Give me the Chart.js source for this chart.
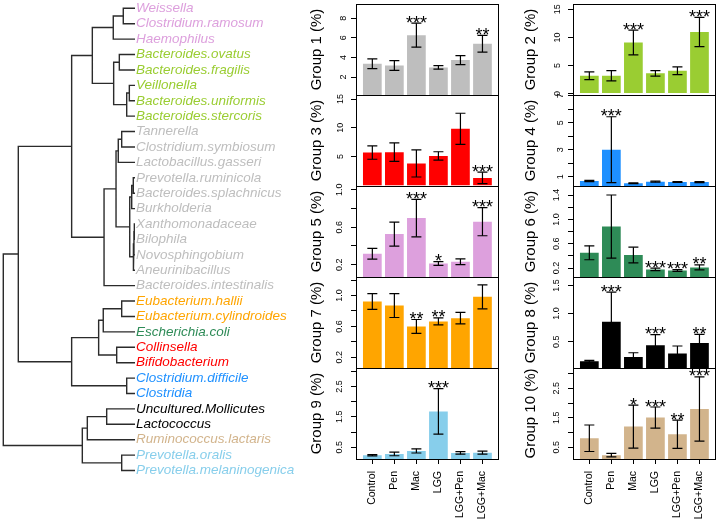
<!DOCTYPE html>
<html>
<head>
<meta charset="utf-8">
<script src="https://cdn.jsdelivr.net/npm/chart.js@4.4.1/dist/chart.umd.min.js"></script>
<style>
  body { margin: 0; background: #fff; width: 722px; height: 520px; overflow: hidden; position: relative; }
  canvas { position: absolute; }
</style>
</head>
<body>
<canvas id="tree" width="300" height="520" style="left:0;top:0"></canvas>
<script>
// Treatments on the x axis
const groups = ['Control', 'Pen', 'Mac', 'LGG', 'LGG+Pen', 'LGG+Mac'];

// Leaves of the dendrogram, top to bottom, and their colour
const leaves = [
  'Weissella', 'Clostridium.ramosum', 'Haemophilus',
  'Bacteroides.ovatus', 'Bacteroides.fragilis', 'Veillonella', 'Bacteroides.uniformis', 'Bacteroides.stercoris',
  'Tannerella', 'Clostridium.symbiosum', 'Lactobacillus.gasseri', 'Prevotella.ruminicola', 'Bacteroides.splachnicus',
  'Burkholderia', 'Xanthomonadaceae', 'Bilophila', 'Novosphingobium', 'Aneurinibacillus', 'Bacteroides.intestinalis',
  'Eubacterium.hallii', 'Eubacterium.cylindroides', 'Escherichia.coli', 'Collinsella', 'Bifidobacterium',
  'Clostridium.difficile', 'Clostridia', 'Uncultured.Mollicutes', 'Lactococcus', 'Ruminococcus.lactaris',
  'Prevotella.oralis', 'Prevotella.melaninogenica'
];
const leafGroup = [5,5,5, 2,2,2,2,2, 1,1,1,1,1,1,1,1,1,1,1, 7,7, 6, 3,3, 4,4, 8,8, 10, 9,9];

// Group colours (Group 1 .. Group 10)
const groupColors = ['#BEBEBE', '#9ACD32', '#FF0000', '#1E90FF', '#DDA0DD',
                     '#2E8B57', '#FFA500', '#000000', '#87CEEB', '#D2B48C'];

// Merge tree: [height, left, right], leaves are indices into `leaves`
const tree = [1.0,
  [0.886,
    [0.481,
      [0.324,
        [0.165, [0.089, 0, 1], 2],
        [0.162, [0.119, 3, 4], [0.063, [0.043, 5, 6], 7]]],
      [0.235,
        [0.144,
          [0.127, [0.101, 8, 9], 10],
          [0.040,
            [0.025, [0.013, 11, 12], 13],
            [0.012, [0.008, [0.005, 14, 15], 16], 17]]],
        18]],
    [0.481,
      [0.276,
        [0.241, [0.101, 19, 20], 21],
        [0.139, 22, 23]],
      [0.063, 24, 25]]],
  [0.400,
    [0.362, [0.215, 26, 27], 28],
    [0.101, 29, 30]]
];

// Mean abundance (%), standard error and significance per group
const g1Mean = [3.35, 3.18, 6.27, 2.98, 3.73, 5.40];
const g1Se = [0.50, 0.49, 1.22, 0.18, 0.46, 0.85];
const g1Stars = ['', '', '***', '', '', '**'];

const g2Mean = [3.17, 3.17, 9.08, 3.60, 4.06, 10.97];
const g2Se = [0.68, 0.92, 2.20, 0.50, 0.68, 2.60];
const g2Stars = ['', '', '***', '', '', '***'];

const g3Mean = [5.70, 5.77, 3.80, 5.12, 9.83, 1.30];
const g3Se = [1.16, 1.60, 2.35, 0.72, 2.70, 1.00];
const g3Stars = ['', '', '', '', '', '***'];

const g4Mean = [0.68, 3.00, 0.51, 0.63, 0.60, 0.60];
const g4Se = [0.04, 2.44, 0.03, 0.04, 0.03, 0.04];
const g4Stars = ['', '***', '', '', '', ''];

const g5Mean = [0.317, 0.527, 0.698, 0.214, 0.232, 0.659];
const g5Se = [0.057, 0.128, 0.200, 0.020, 0.030, 0.150];
const g5Stars = ['', '', '***', '*', '', '***'];

const g6Mean = [0.451, 0.882, 0.413, 0.177, 0.160, 0.210];
const g6Se = [0.115, 0.520, 0.130, 0.020, 0.015, 0.040];
const g6Stars = ['', '', '', '***', '***', '**'];

const g7Mean = [0.923, 0.871, 0.600, 0.665, 0.707, 0.983];
const g7Se = [0.103, 0.155, 0.090, 0.045, 0.075, 0.155];
const g7Stars = ['', '', '**', '**', '', ''];

const g8Mean = [0.150, 0.855, 0.227, 0.434, 0.287, 0.475];
const g8Se = [0.015, 0.525, 0.075, 0.190, 0.135, 0.155];
const g8Stars = ['', '***', '', '***', '', '**'];

const g9Mean = [0.233, 0.277, 0.377, 1.677, 0.310, 0.320];
const g9Se = [0.020, 0.060, 0.070, 0.750, 0.040, 0.050];
const g9Stars = ['', '', '', '***', '', ''];

const g10Mean = [0.805, 0.230, 1.200, 1.505, 0.940, 1.800];
const g10Se = [0.450, 0.060, 0.730, 0.360, 0.480, 1.090];
const g10Stars = ['', '', '*', '***', '**', '***'];

// y ranges and tick labels of each panel
const yRanges = [[0.17, 9.45], [-0.25, 15.94], [-0.11, 15.7], [0.31, 7.05], [0.069, 1.04],
                 [0.052, 1.55], [0.062, 1.24], [0.031, 1.65], [0.11, 3.11], [0.10, 3.19]];
const yTickValues = [
  [2, 4, 6, 8], [0, 5, 10, 15], [5, 10, 15], [1, 2, 3, 4, 5, 6, 7], [0.2, 0.4, 0.6, 0.8, 1.0],
  [0.2, 0.4, 0.6, 0.8, 1.0, 1.2, 1.4], [0.2, 0.4, 0.6, 0.8, 1.0, 1.2], [0.5, 1.0, 1.5],
  [0.5, 1.0, 1.5, 2.0, 2.5, 3.0], [0.5, 1.0, 1.5, 2.0, 2.5, 3.0]
];
const yTickLabels = [
  ['2', '4', '6', '8'], ['0', '5', '10', '15'], ['5', '10', '15'], ['1', '', '3', '', '5', '', '7'],
  ['0.2', '', '0.6', '', '1.0'], ['0.2', '', '0.6', '', '1.0', '', '1.4'], ['0.2', '', '0.6', '', '1.0', ''],
  ['0.5', '1.0', '1.5'], ['0.5', '', '1.5', '', '2.5', ''], ['0.5', '', '1.5', '', '2.5', '']
];

const means = [g1Mean, g2Mean, g3Mean, g4Mean, g5Mean, g6Mean, g7Mean, g8Mean, g9Mean, g10Mean];
const ses = [g1Se, g2Se, g3Se, g4Se, g5Se, g6Se, g7Se, g8Se, g9Se, g10Se];
const stars = [g1Stars, g2Stars, g3Stars, g4Stars, g5Stars, g6Stars, g7Stars, g8Stars, g9Stars, g10Stars];

const FONT = '"Liberation Sans", Arial, Helvetica, sans-serif';
Chart.defaults.font.family = FONT;

// ---- dendrogram ----
function layoutTree(node, segs) {
  if (typeof node === 'number') return { h: 0, y: node };
  const [h, a, b] = node;
  const A = layoutTree(a, segs);
  const B = layoutTree(b, segs);
  segs.push({ x: A.h, y: A.y }, { x: h, y: A.y }, { x: h, y: B.y }, { x: B.h, y: B.y }, { x: null, y: null });
  return { h, y: (A.y + B.y) / 2 };
}
const treeSegs = [];
layoutTree(tree, treeSegs);

new Chart(document.getElementById('tree'), {
  type: 'scatter',
  data: {
    datasets: [{
      data: treeSegs,
      showLine: true,
      spanGaps: false,
      borderColor: '#2b2b2b',
      borderWidth: 1.4,
      borderJoinStyle: 'miter',
      pointRadius: 0
    }]
  },
  options: {
    responsive: false,
    animation: false,
    events: [],
    layout: { padding: 0 },
    plugins: { legend: { display: false }, tooltip: { enabled: false } },
    scales: {
      x: { type: 'linear', display: false, reverse: true, min: 0, max: 1.025 },
      y: {
        type: 'linear', position: 'right', reverse: true, min: -0.539, max: 33.21, bounds: 'data',
        grid: { display: false, drawTicks: false },
        border: { display: false },
        ticks: {
          autoSkip: false,
          padding: 1,
          color: (c) => groupColors[leafGroup[c.index] - 1],
          font: { size: 13.5, style: 'italic', family: FONT },
          callback: (v, i) => leaves[i]
        },
        afterBuildTicks: (s) => { s.ticks = leaves.map((_, i) => ({ value: i })); },
        afterFit: (s) => { s.width = 165; s.paddingTop = 0; s.paddingBottom = 0; }
      }
    }
  }
});

// ---- bar panels ----
const pos = groups.map((_, i) => 0.7 + 1.2 * i);

const starPlugin = {
  id: 'stars',
  afterDatasetsDraw(chart, args, opts) {
    const { ctx, scales: { x, y } } = chart;
    ctx.save();
    ctx.font = '18px ' + FONT;
    ctx.fillStyle = '#000';
    ctx.textAlign = 'center';
    ctx.textBaseline = 'alphabetic';
    opts.marks.forEach((s, i) => {
      if (!s) return;
      ctx.fillText(s, x.getPixelForValue(pos[i]), y.getPixelForValue(opts.top[i]) + 5.5);
    });
    ctx.restore();
  }
};

const rowTops = [4, 95, 186, 277, 368];
const boxH = 91;
const colLeft = [300, 516];
const colAxisW = [56, 57];
const colAreaW = [145, 146];
const colPadR = [4, 3];
const colTitlePad = [8, 6];

function zeroPad(s) { s.paddingLeft = 0; s.paddingRight = 0; s.paddingTop = 0; s.paddingBottom = 0; }

for (let g = 0; g < 10; g++) {
  const col = g % 2;
  const row = Math.floor(g / 2);
  const bottom = row === 4;
  const top = rowTops[row] - 12;
  const height = bottom ? 520 - top : boxH + 24;

  const cv = document.createElement('canvas');
  cv.width = colAxisW[col] + colAreaW[col] + colPadR[col];
  cv.height = height;
  cv.style.left = colLeft[col] + 'px';
  cv.style.top = top + 'px';
  document.body.appendChild(cv);

  const mean = means[g], se = ses[g];
  const errPts = [];
  mean.forEach((m, i) => {
    errPts.push({ x: pos[i], y: m - se[i] }, { x: pos[i], y: m + se[i] }, { x: null, y: null });
  });

  new Chart(cv, {
    type: 'bar',
    data: {
      datasets: [
        {
          type: 'bar',
          data: mean.map((m, i) => ({ x: pos[i], y: m })),
          backgroundColor: groupColors[g],
          borderWidth: 0,
          categoryPercentage: 1,
          barPercentage: 0.85,
          order: 2
        },
        {
          type: 'line',
          data: errPts,
          spanGaps: false,
          borderColor: '#000',
          borderWidth: 1.2,
          pointStyle: 'line',
          pointRadius: 5,
          pointBorderColor: '#000',
          pointBorderWidth: 1.2,
          order: 1
        }
      ]
    },
    options: {
      responsive: false,
      animation: false,
      events: [],
      layout: { padding: { left: 0, right: colPadR[col], top: 12, bottom: bottom ? 0 : 12 } },
      plugins: {
        legend: { display: false },
        tooltip: { enabled: false },
        stars: { marks: stars[g], top: mean.map((m, i) => m + se[i]) }
      },
      scales: {
        x: {
          type: 'linear', min: -0.19, max: 7.59, offset: false, bounds: 'data',
          grid: { display: bottom, drawOnChartArea: false, drawTicks: bottom, tickLength: 5, tickColor: '#000', offset: false },
          border: { display: true, color: '#000', width: 1 },
          ticks: {
            display: bottom, autoSkip: false, minRotation: 90, maxRotation: 90, padding: 7,
            color: '#000', font: { size: 10.5, family: FONT },
            callback: (v, i) => groups[i]
          },
          afterBuildTicks: (s) => { s.ticks = pos.map((v) => ({ value: v })); },
          afterFit: (s) => { s.height = bottom ? 61 : 0; zeroPad(s); }
        },
        y: {
          type: 'linear', position: 'left', min: yRanges[g][0], max: yRanges[g][1], bounds: 'data',
          grid: { drawOnChartArea: false, drawTicks: true, tickLength: 5, tickColor: '#000' },
          border: { display: true, color: '#000', width: 1 },
          ticks: {
            autoSkip: false, minRotation: 90, maxRotation: 90, crossAlign: 'center', padding: 5,
            color: '#000', font: { size: 9, family: FONT },
            callback: (v, i) => yTickLabels[g][i]
          },
          afterBuildTicks: (s) => { s.ticks = yTickValues[g].map((v) => ({ value: v })); },
          title: {
            display: true, text: 'Group ' + (g + 1) + ' (%)', color: '#000',
            font: { size: 15, family: FONT, lineHeight: 1.2 },
            padding: { top: colTitlePad[col], bottom: 0 }
          },
          afterFit: (s) => { s.width = colAxisW[col]; zeroPad(s); }
        },
        xTop: {
          type: 'linear', position: 'top', min: 0, max: 1,
          grid: { display: false, drawTicks: false }, ticks: { display: false },
          border: { display: true, color: '#000', width: 1 },
          afterFit: (s) => { s.height = 0; zeroPad(s); }
        },
        yRight: {
          type: 'linear', position: 'right', min: 0, max: 1,
          grid: { display: false, drawTicks: false }, ticks: { display: false },
          border: { display: true, color: '#000', width: 1 },
          afterFit: (s) => { s.width = 0; zeroPad(s); }
        }
      }
    },
    plugins: [starPlugin]
  });
}
</script>
</body>
</html>
